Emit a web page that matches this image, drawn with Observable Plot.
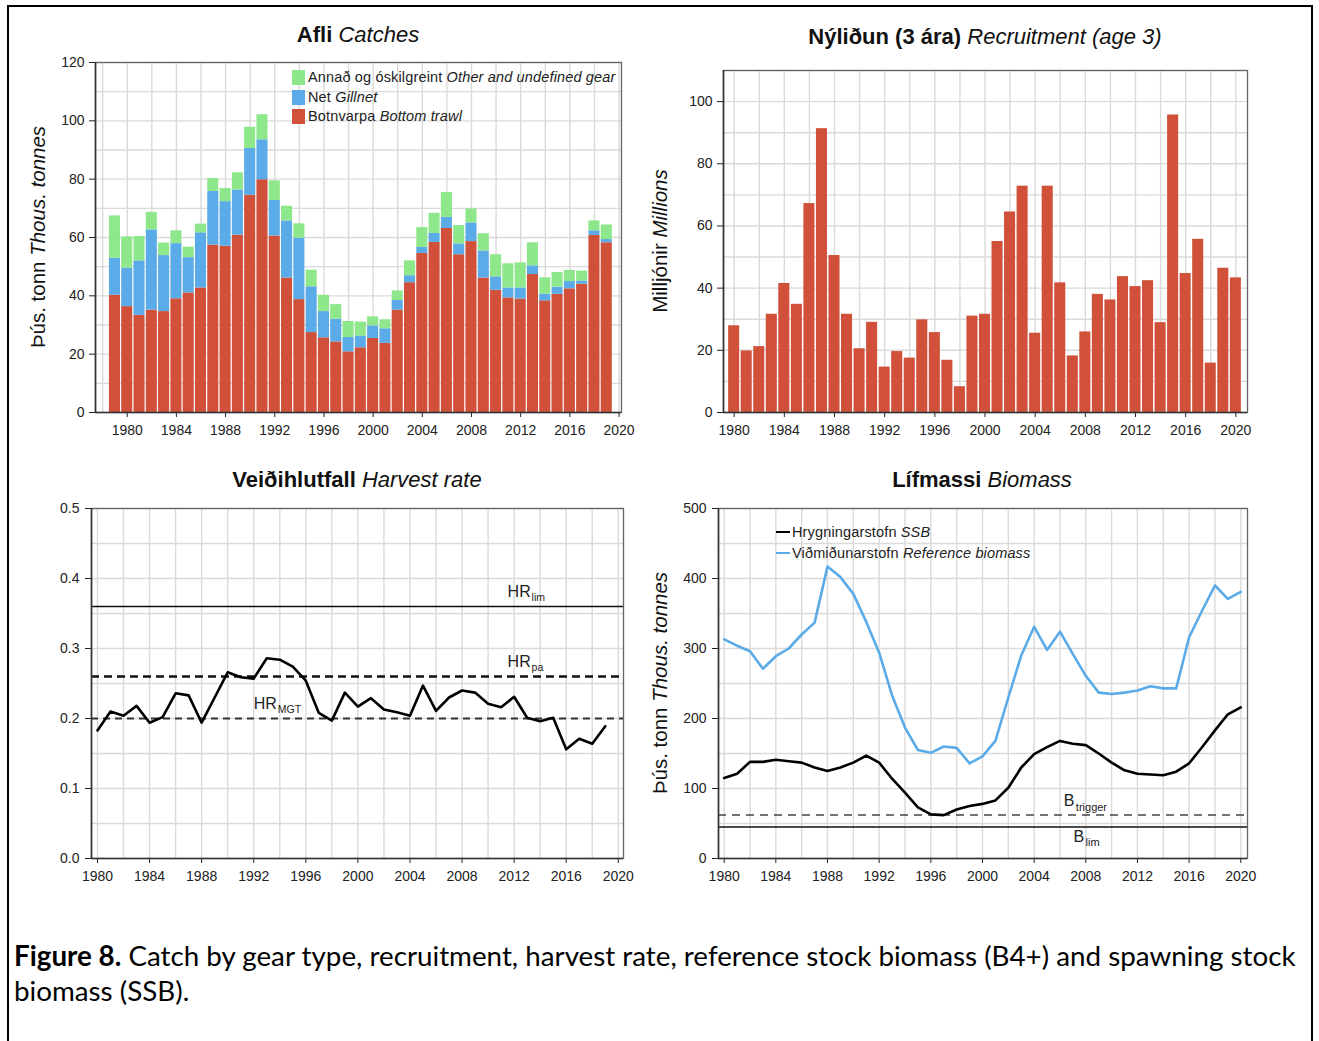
<!DOCTYPE html>
<html><head><meta charset="utf-8">
<script src="https://cdn.jsdelivr.net/npm/d3@7"></script>
<script src="https://cdn.jsdelivr.net/npm/@observablehq/plot@0.6"></script>
<style>
body{margin:0;background:#fff;font-family:"Liberation Sans",Arial,Helvetica,sans-serif;}
#root{position:relative;width:1319px;height:1041px;overflow:hidden;background:#fff}
#border{position:absolute;left:7px;top:5px;width:1306px;height:1060px;border:2px solid #000;box-sizing:border-box}
.title{position:absolute;font-size:22px;white-space:nowrap;transform:translate(-50%,-50%);color:#111}
.title b{font-weight:700}
.ylab{position:absolute;font-size:20.5px;white-space:nowrap;transform:translate(-50%,-50%) rotate(-90deg);color:#111}
.leg{position:absolute;font-size:14.5px;letter-spacing:0.15px;white-space:nowrap;color:#222;transform:translateY(-50%);display:flex;align-items:center}
.sw{display:inline-block;width:13px;height:15px;margin-right:3px}
.ln{display:inline-block;width:14px;height:0;border-top:2px solid #000;margin-right:2px}
.cap{position:absolute;left:14px;white-space:nowrap;font-family:Lato,"Open Sans",sans-serif;color:#000;transform:translateY(-50%)}
</style></head>
<body><div id="root"><div id="border"></div></div>
<script>
// ---------------- DATA ----------------
const catchYears = d3.range(1979, 2020);
const trawlCatch = [40.2,36.3,33.3,35.1,34.6,39.0,41.0,42.7,57.4,57.0,60.8,74.5,79.8,60.5,46.1,38.7,27.4,25.6,24.2,20.8,22.2,25.4,23.7,35.1,44.5,54.5,58.3,63.1,54.1,58.6,46.1,41.9,39.3,38.9,47.3,38.3,40.5,42.4,44.0,60.7,58.2];
const gillnetCatch = [12.7,13.2,18.7,27.5,19.2,18.9,12.1,18.9,18.4,15.3,15.5,16.0,13.7,12.2,19.6,21.1,15.7,9.0,7.8,4.9,4.0,4.3,5.0,3.3,2.4,2.1,3.1,3.8,3.7,6.4,9.3,4.6,3.4,3.8,3.0,2.3,2.5,2.5,1.1,1.6,1.1];
const otherCatch = [14.5,10.7,8.3,6.0,4.3,4.4,3.6,3.0,4.4,4.5,5.9,7.3,8.6,6.7,5.0,4.9,5.7,5.6,5.0,5.5,4.8,3.1,3.1,3.3,5.1,6.8,6.9,8.5,6.3,4.8,5.9,7.6,8.3,8.6,7.9,5.6,5.0,3.8,3.4,3.4,5.0];
const gearKeys = ["trawl","gillnet","other"];

const recYears = d3.range(1980, 2021);
const recruitment = [27.9,19.8,21.2,31.6,41.5,34.8,67.2,91.3,50.5,31.6,20.5,29.0,14.6,19.6,17.5,29.8,25.7,16.8,8.3,31.0,31.6,55.0,64.5,72.8,25.5,72.8,41.7,18.2,25.9,38.0,36.2,43.7,40.5,42.4,28.9,95.7,44.7,55.7,15.9,46.4,43.3];

const hrYears = d3.range(1980, 2020);
const harvestRate = [0.183,0.210,0.204,0.218,0.194,0.202,0.236,0.233,0.194,0.230,0.266,0.259,0.257,0.286,0.284,0.274,0.254,0.208,0.197,0.237,0.217,0.229,0.213,0.209,0.204,0.247,0.211,0.230,0.240,0.237,0.221,0.216,0.231,0.201,0.196,0.201,0.156,0.171,0.164,0.189];
const hrRefNames = ["lim","pa","MGT"];
const hrRefValues = [0.36, 0.26, 0.20];

const bioYears = d3.range(1980, 2021);
const refBiomass = [313,304,296,271,289,300,320,337,417,402,378,338,294,233,187,155,151,160,158,136,146,168,230,290,331,298,324,292,261,237,235,237,240,246,243,243,316,354,390,371,381];
const ssb = [115,121,138,138,141,139,137,130,125,130,137,147,137,114,94,73,63,62,70,75,78,83,101,130,149,159,168,164,162,150,137,126,121,120,119,124,136,159,183,206,216];
const bRefNames = ["trigger","lim"];
const bRefValues = [62, 45];

// ---------------- STYLE ----------------
const RED = "#d0503a", BLUE = "#5aabe8", GREEN = "#8fe78b", GRID = "#dadada";
const FONT = '"Liberation Sans", Arial, Helvetica, sans-serif';
const root = document.getElementById("root");

function base(L, T, R, B) {
  return {
    width: Math.round(R - L + 85), height: Math.round(B - T + 45),
    marginLeft: 60, marginRight: 25, marginTop: 10, marginBottom: 35,
    style: {fontFamily: FONT, fontSize: "14px", color: "#222", background: "none", overflow: "visible"}
  };
}
function place(el, L, T) {
  el.style.position = "absolute";
  el.style.left = (L - 60) + "px";
  el.style.top = (T - 10) + "px";
  root.appendChild(el);
}
function html(tag, cls, inner, css) {
  const e = document.createElement(tag);
  if (cls) e.className = cls;
  e.innerHTML = inner;
  Object.assign(e.style, css);
  root.appendChild(e);
  return e;
}
const axisMarks = (xmin, ymin) => [
  Plot.frame({stroke: "#666", strokeWidth: 1.3}),
  Plot.ruleX([xmin], {stroke: "#333", strokeWidth: 1.6}),
  Plot.ruleY([ymin], {stroke: "#333", strokeWidth: 1.6})
];
const xAxis = (xd) => ({domain: xd, ticks: d3.range(1980, 2021, 4), tickFormat: d => String(d), tickSize: 5, tickPadding: 8, label: null});

// ---------------- PANEL A: catches ----------------
{
  const rows = catchYears.flatMap((yr, i) => {
    const a = trawlCatch[i], b = a + gillnetCatch[i], c = b + otherCatch[i];
    return [
      {year: yr, y1: 0, y2: a, gear: "trawl"},
      {year: yr, y1: a, y2: b, gear: "gillnet"},
      {year: yr, y1: b, y2: c, gear: "other"}
    ];
  });
  const xd = [1977.42, 2020.2];
  const p = Plot.plot({
    ...base(95, 62, 621, 412),
    x: xAxis(xd),
    y: {domain: [0, 120], ticks: d3.range(0, 121, 20), tickSize: 6, tickPadding: 5, label: null},
    color: {domain: gearKeys, range: [RED, BLUE, GREEN]},
    marks: [
      Plot.ruleX(d3.range(1978, 2021, 2), {stroke: GRID, strokeWidth: 1.4}),
      Plot.ruleY(d3.range(10, 121, 10), {stroke: GRID, strokeWidth: 1.4}),
      Plot.rect(rows, {x1: d => d.year - 0.45, x2: d => d.year + 0.45, y1: "y1", y2: "y2", fill: "gear"}),
      ...axisMarks(xd[0], 0)
    ]
  });
  place(p, 95, 62);
  html("div", "title", "<b>Afli</b> <i>Catches</i>", {left: "358px", top: "35px"});
  html("div", "ylab", "Þús. tonn <i>Thous. tonnes</i>", {left: "38px", top: "237px"});
  html("div", "leg", `<span class="sw" style="background:${GREEN}"></span>Annað og óskilgreint&nbsp;<i>Other and undefined gear</i>`, {left: "292px", top: "77px"});
  html("div", "leg", `<span class="sw" style="background:${BLUE}"></span>Net&nbsp;<i>Gillnet</i>`, {left: "292px", top: "97px"});
  html("div", "leg", `<span class="sw" style="background:${RED}"></span>Botnvarpa&nbsp;<i>Bottom trawl</i>`, {left: "292px", top: "116px"});
}

// ---------------- PANEL B: recruitment ----------------
{
  const rows = recYears.map((yr, i) => ({year: yr, value: recruitment[i]}));
  const xd = [1979.15, 2020.93];
  const p = Plot.plot({
    ...base(723, 70, 1247, 412),
    x: xAxis(xd),
    y: {domain: [0, 110], ticks: d3.range(0, 101, 20), tickSize: 6, tickPadding: 5, label: null},
    marks: [
      Plot.ruleX(d3.range(1980, 2021, 2), {stroke: GRID, strokeWidth: 1.4}),
      Plot.ruleY(d3.range(10, 111, 10), {stroke: GRID, strokeWidth: 1.4}),
      Plot.rect(rows, {x1: d => d.year - 0.44, x2: d => d.year + 0.44, y1: 0, y2: "value", fill: RED}),
      ...axisMarks(xd[0], 0)
    ]
  });
  place(p, 723, 70);
  html("div", "title", "<b>Nýliðun (3 ára)</b> <i>Recruitment (age 3)</i>", {left: "985px", top: "37px"});
  html("div", "ylab", "Milljónir <i>Millions</i>", {left: "660px", top: "241px"});
}

// ---------------- PANEL C: harvest rate ----------------
{
  const rows = hrYears.map((yr, i) => ({year: yr, value: harvestRate[i]}));
  const refs = hrRefNames.map((n, i) => ({name: n, value: hrRefValues[i]}));
  const xd = [1979.54, 2020.4];
  const labelX = {lim: 2011.5, pa: 2011.5, MGT: 1992.0};
  const p = Plot.plot({
    ...base(91, 508, 623, 858),
    x: xAxis(xd),
    y: {domain: [0, 0.5], ticks: d3.range(0, 0.51, 0.1), tickFormat: d3.format(".1f"), tickSize: 6, tickPadding: 6, label: null},
    marks: [
      Plot.ruleX(d3.range(1980, 2021, 2), {stroke: GRID, strokeWidth: 1.4}),
      Plot.ruleY(d3.range(0.05, 0.51, 0.05), {stroke: GRID, strokeWidth: 1.4}),
      Plot.ruleY(refs.filter(d => d.name === "lim"), {y: "value", stroke: "#111", strokeWidth: 1.6}),
      Plot.ruleY(refs.filter(d => d.name === "pa"), {y: "value", stroke: "#111", strokeWidth: 2.6, strokeDasharray: "8,5"}),
      Plot.ruleY(refs.filter(d => d.name === "MGT"), {y: "value", stroke: "#333", strokeWidth: 2, strokeDasharray: "7,5"}),
      Plot.line(rows, {x: "year", y: "value", stroke: "#000", strokeWidth: 2.6}),
      Plot.text(refs, {x: d => labelX[d.name], y: "value", text: () => "HR", textAnchor: "start", dy: -15, fontSize: 16, fill: "#222"}),
      Plot.text(refs, {x: d => labelX[d.name], y: "value", text: "name", textAnchor: "start", dx: 24, dy: -9, fontSize: 10.5, fill: "#222"}),
      ...axisMarks(xd[0], 0)
    ]
  });
  place(p, 91, 508);
  html("div", "title", "<b>Veiðihlutfall</b> <i>Harvest rate</i>", {left: "357px", top: "480px"});
}

// ---------------- PANEL D: biomass ----------------
{
  const rows = [
    ...bioYears.map((yr, i) => ({year: yr, value: refBiomass[i], series: "ref"})),
    ...bioYears.map((yr, i) => ({year: yr, value: ssb[i], series: "ssb"}))
  ];
  const refs = bRefNames.map((n, i) => ({name: n, value: bRefValues[i]}));
  const xd = [1979.56, 2020.52];
  const labelX = {trigger: 2006.3, lim: 2007.05};
  const p = Plot.plot({
    ...base(718, 508, 1247, 858),
    x: xAxis(xd),
    y: {domain: [0, 500], ticks: d3.range(0, 501, 100), tickSize: 6, tickPadding: 6, label: null},
    color: {domain: ["ssb", "ref"], range: ["#000", BLUE]},
    marks: [
      Plot.ruleX(d3.range(1980, 2021, 2), {stroke: GRID, strokeWidth: 1.4}),
      Plot.ruleY(d3.range(50, 501, 50), {stroke: GRID, strokeWidth: 1.4}),
      Plot.ruleY(refs.filter(d => d.name === "trigger"), {y: "value", stroke: "#444", strokeWidth: 1.5, strokeDasharray: "8,6"}),
      Plot.ruleY(refs.filter(d => d.name === "lim"), {y: "value", stroke: "#111", strokeWidth: 1.6}),
      Plot.line(rows, {x: "year", y: "value", z: "series", stroke: "series", strokeWidth: 2.6}),
      Plot.text(refs.filter(d => d.name === "trigger"), {x: d => labelX[d.name], y: "value", text: () => "B", textAnchor: "start", fontSize: 16, fill: "#222", dy: -14}),
      Plot.text(refs.filter(d => d.name === "trigger"), {x: d => labelX[d.name], y: "value", text: "name", textAnchor: "start", dx: 12, dy: -8, fontSize: 11, fill: "#222"}),
      Plot.text(refs.filter(d => d.name === "lim"), {x: d => labelX[d.name], y: "value", text: () => "B", textAnchor: "start", fontSize: 16, fill: "#222", dy: 10}),
      Plot.text(refs.filter(d => d.name === "lim"), {x: d => labelX[d.name], y: "value", text: "name", textAnchor: "start", dx: 12, dy: 15, fontSize: 11, fill: "#222"}),
      ...axisMarks(xd[0], 0)
    ]
  });
  place(p, 718, 508);
  html("div", "title", "<b>Lífmassi</b> <i>Biomass</i>", {left: "982px", top: "480px"});
  html("div", "ylab", "Þús. tonn <i>Thous. tonnes</i>", {left: "660px", top: "683px"});
  html("div", "leg", `<span class="ln" style="border-color:#000"></span>Hrygningarstofn&nbsp;<i>SSB</i>`, {left: "776px", top: "532px"});
  html("div", "leg", `<span class="ln" style="border-color:${BLUE}"></span>Viðmiðunarstofn&nbsp;<i>Reference biomass</i>`, {left: "776px", top: "553px"});
}

// ---------------- CAPTION ----------------
{
  const line1b = "Figure 8.", line1 = " Catch by gear type, recruitment, harvest rate, reference stock biomass (B4+) and spawning stock";
  const ctx = document.createElement("canvas").getContext("2d");
  ctx.font = '700 24px Lato'; const w1 = ctx.measureText(line1b).width;
  ctx.font = '400 24px Lato'; const w2 = ctx.measureText(line1).width;
  const fs = Math.min(28, 24 * 1283 / (w1 + w2));
  html("div", "cap", `<b>${line1b}</b>${line1}`, {top: "955px", fontSize: fs + "px"});
  html("div", "cap", "biomass (SSB).", {top: "990px", fontSize: fs + "px"});
}
</script>
</body></html>
